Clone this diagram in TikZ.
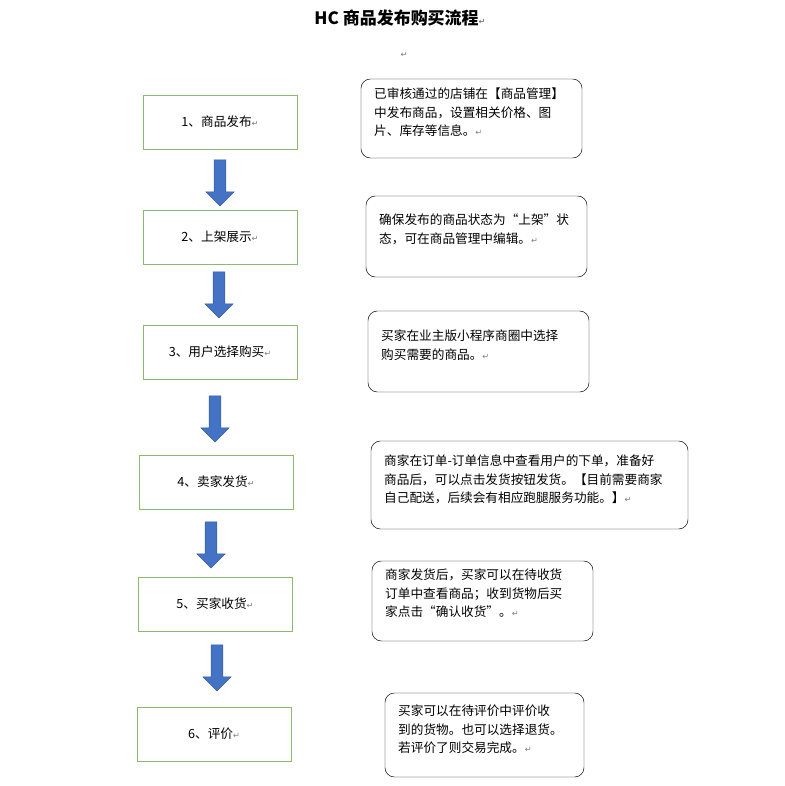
\documentclass[tikz,border=0pt]{standalone}
\usepackage{fontspec}
\setmainfont{Noto Sans CJK SC}
\newfontfamily\markfont{DejaVu Sans}
\usetikzlibrary{shapes.arrows}
\definecolor{stepgreen}{HTML}{8DB96A}
\definecolor{arrowblue}{HTML}{4472C4}
\newcommand{\pmark}{{\markfont\color{gray}\scriptsize ↵}}

\begin{document}
\begin{tikzpicture}[x=0.03cm,y=-0.03cm]
        \tikzstyle{every node}=[font=\fontsize{10.8}{15.5}\selectfont]
        \tikzstyle{stepbox}=[draw=stepgreen,minimum width=154*0.03cm,minimum height=54*0.03cm]
        \tikzstyle{note}=[align=left,anchor=north west,inner sep=0pt]
        \tikzstyle{down}=[single arrow,draw=arrowblue!80!black,fill=arrowblue,rotate=-90,
            minimum height=46*0.03cm,minimum width=28*0.03cm,single arrow head extend=3pt,inner sep=2pt]

        \useasboundingbox (0,0) rectangle (784,786);

        \node[font=\fontsize{14.5}{16}\selectfont\bfseries] (title) at (400,18) {HC 商品发布购买流程\pmark};
        \node (blank) at (404,55) {\pmark};

        % steps on the left
        \node[stepbox] (s1) at (220,122) {1、商品发布\pmark};
        \node[stepbox] (s2) at (220,237) {2、上架展示\pmark};
        \node[stepbox] (s3) at (220,352) {3、用户选择购买\pmark};
        \node[stepbox] (s4) at (216,482) {4、卖家发货\pmark};
        \node[stepbox] (s5) at (215,604) {5、买家收货\pmark};
        \node[stepbox] (s6) at (214,734) {6、评价\pmark};

        % block arrows between the steps
        \node[down] (a1) at (220,180) {};
        \node[down] (a2) at (219,292) {};
        \node[down] (a3) at (215,416) {};
        \node[down] (a4) at (211,542) {};
        \node[down] (a5) at (217,665) {};

        % notes on the right
        \draw[rounded corners=8pt] (361,79) rectangle (582,158);
        \node[note] (n1) at (374,88) {已审核通过的店铺在【商品管理】\\中发布商品，设置相关价格、图\\片、库存等信息。\pmark};
        \draw[rounded corners=8pt] (366,196) rectangle (587,277);
        \node[note] (n2) at (379,214) {确保发布的商品状态为“上架”状\\态，可在商品管理中编辑。\pmark};
        \draw[rounded corners=8pt] (368,311) rectangle (589,392);
        \node[note] (n3) at (381,330) {买家在业主版小程序商圈中选择\\购买需要的商品。\pmark};
        \draw[rounded corners=8pt] (371,441) rectangle (688,529);
        \node[note] (n4) at (384,455) {商家在订单-订单信息中查看用户的下单，准备好\\商品后，可以点击发货按钮发货。【目前需要商家\\自己配送，后续会有相应跑腿服务功能。】\pmark};
        \draw[rounded corners=8pt] (372,561) rectangle (593,641);
        \node[note] (n5) at (385,569) {商家发货后，买家可以在待收货\\订单中查看商品；收到货物后买\\家点击“确认收货”。\pmark};
        \draw[rounded corners=8pt] (385,693) rectangle (584,777);
        \node[note] (n6) at (398,705) {买家可以在待评价中评价收\\到的货物。也可以选择退货。\\若评价了则交易完成。\pmark};
\end{tikzpicture}
\end{document}
